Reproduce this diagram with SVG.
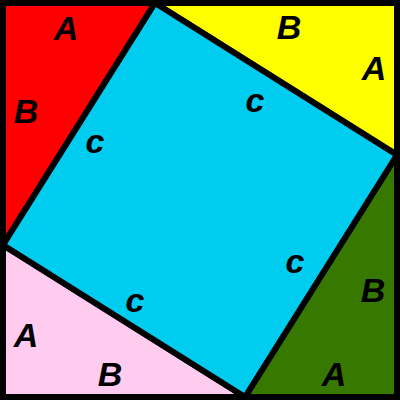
<svg xmlns="http://www.w3.org/2000/svg" width="400" height="400" viewBox="0 0 400 400">
<style>
.t{font-family:"Liberation Sans",Arial,sans-serif;font-weight:bold;font-style:italic;font-size:34px;text-anchor:middle;fill:#000}
.s{stroke:#000;stroke-width:6;stroke-linejoin:miter}
</style>
<g id="tri-red"><polygon class="s" points="3,3 155,3 3,245" fill="#ff0000"/></g>
<g id="tri-yellow"><polygon class="s" points="155,3 397,3 397,155" fill="#ffff00"/></g>
<g id="tri-green"><polygon class="s" points="397,155 397,397 245,397" fill="#367800"/></g>
<g id="tri-pink"><polygon class="s" points="3,245 3,397 245,397" fill="#ffccf0"/></g>
<g id="square"><polygon class="s" points="155,3 397,155 245,397 3,245" fill="#00ccf0"/></g>
<g id="border"><rect x="3" y="3" width="394" height="394" fill="none" stroke="#000" stroke-width="6"/></g>
<g id="labels">
<text class="t" x="66" y="40">A</text>
<text class="t" x="26" y="123">B</text>
<text class="t" x="95" y="153">c</text>
<text class="t" x="289" y="39">B</text>
<text class="t" x="374" y="80">A</text>
<text class="t" x="255" y="112">c</text>
<text class="t" x="295" y="273">c</text>
<text class="t" x="373" y="302">B</text>
<text class="t" x="334" y="386">A</text>
<text class="t" x="135" y="312">c</text>
<text class="t" x="26" y="347">A</text>
<text class="t" x="110" y="386">B</text>
</g>
</svg>
